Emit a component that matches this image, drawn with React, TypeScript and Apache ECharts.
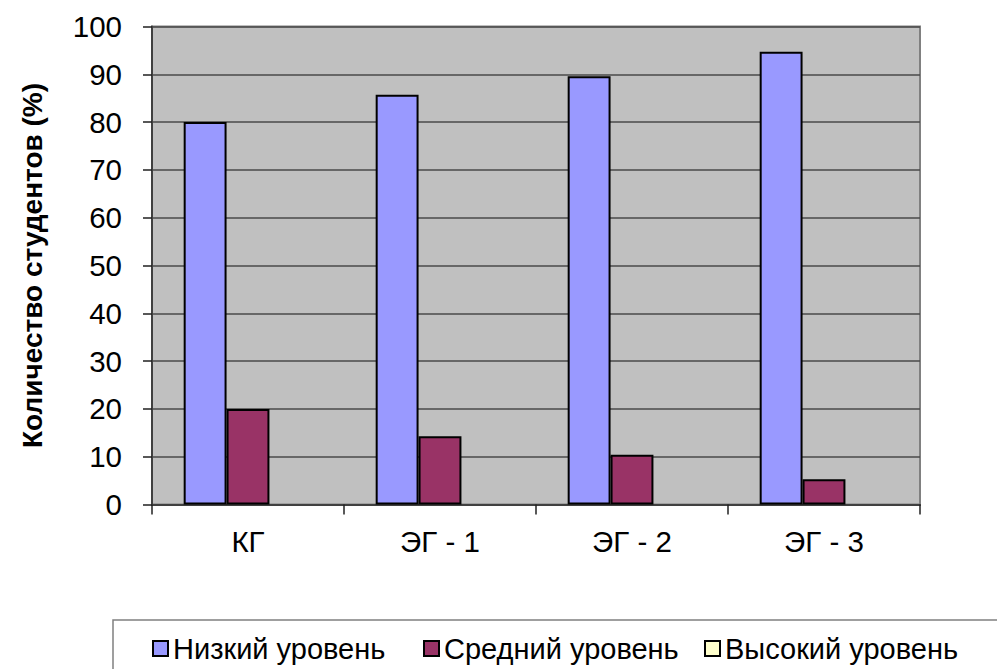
import React, { useEffect, useRef } from "react";
import * as echarts from "echarts";

const categories = ["КГ", "ЭГ - 1", "ЭГ - 2", "ЭГ - 3"];
const lowLevel = [80, 85.7, 89.6, 94.7];
const midLevel = [20, 14.3, 10.4, 5.3];
const highLevel = [0, 0, 0, 0];
const seriesNames = ["Низкий уровень", "Средний уровень", "Высокий уровень"];
const yTicks = { min: 0, max: 100, interval: 10 };

const FONT = "'Liberation Sans', Arial, sans-serif";
const legendLefts = [147, 418, 699];

export default function App() {
  const ref = useRef<HTMLDivElement>(null);
  useEffect(() => {
    if (!ref.current) return;
    const chart = echarts.init(ref.current, null, { renderer: "svg" });
    const barBorder = { borderColor: "#000", borderWidth: 2 };
    chart.setOption({
      animation: false,
      backgroundColor: "#fff",
      grid: {
        left: 152,
        right: 77,
        top: 26.5,
        bottom: 164.5,
        show: true,
        backgroundColor: "#C0C0C0",
        borderColor: "#808080",
        borderWidth: 2,
      },
      graphic: [
        {
          type: "rect",
          shape: { x: 113, y: 620, width: 1000, height: 100 },
          style: { fill: "none", stroke: "#808080", lineWidth: 1.5 },
          silent: true,
        },
      ],
      legend: seriesNames.map((n, i) => ({
        left: legendLefts[i],
        top: 629,
        icon: "rect",
        itemWidth: 15,
        itemHeight: 15,
        textStyle: { fontFamily: FONT, fontSize: 29, color: "#000" },
        data: [{ name: n, itemStyle: { borderColor: "#000", borderWidth: 2 } }],
      })),
      xAxis: {
        type: "category",
        data: categories,
        axisLine: { lineStyle: { color: "#404040", width: 2 } },
        axisTick: {
          show: true,
          length: 10,
          interval: 0,
          alignWithLabel: false,
          lineStyle: { color: "#202020", width: 1.5 },
        },
        axisLabel: {
          fontFamily: FONT,
          fontSize: 29.5,
          color: "#000",
          margin: 22,
          interval: 0,
        },
      },
      yAxis: {
        type: "value",
        min: yTicks.min,
        max: yTicks.max,
        interval: yTicks.interval,
        name: "Количество студентов (%)",
        nameLocation: "middle",
        nameGap: 106,
        nameRotate: 90,
        nameTextStyle: {
          fontFamily: FONT,
          fontSize: 28,
          fontWeight: "bold",
          color: "#000",
        },
        axisLine: { show: true, lineStyle: { color: "#404040", width: 2 } },
        axisTick: {
          show: true,
          length: 9,
          lineStyle: { color: "#202020", width: 1.5 },
        },
        splitLine: { lineStyle: { color: "#4a4a4a", width: 1.5 } },
        axisLabel: {
          fontFamily: FONT,
          fontSize: 29.5,
          color: "#000",
          margin: 30,
        },
      },
      series: [
        {
          name: seriesNames[0],
          type: "bar",
          data: lowLevel,
          barGap: "0%",
          barCategoryGap: "33%",
          itemStyle: { color: "#9999FF", ...barBorder },
        },
        {
          name: seriesNames[1],
          type: "bar",
          data: midLevel,
          barGap: "0%",
          barCategoryGap: "33%",
          itemStyle: { color: "#993366", ...barBorder },
        },
        {
          name: seriesNames[2],
          type: "bar",
          data: highLevel,
          barGap: "0%",
          barCategoryGap: "33%",
          itemStyle: { color: "#FFFFCC", borderColor: "#000", borderWidth: 0 },
        },
      ],
    });
    return () => chart.dispose();
  }, []);
  return (
    <div
      ref={ref}
      style={{ position: "fixed", left: 0, top: 0, width: 997, height: 669 }}
    />
  );
}
